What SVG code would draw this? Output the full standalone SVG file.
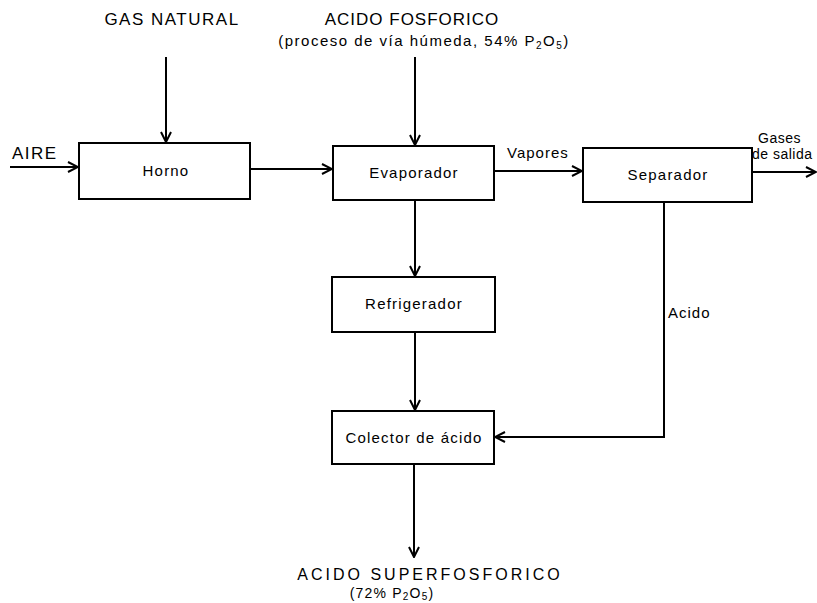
<svg xmlns="http://www.w3.org/2000/svg" width="817" height="603" viewBox="0 0 817 603">
<style>
.box{fill:#fff;stroke:#000;stroke-width:2}
.ln{fill:none;stroke:#000;stroke-width:2}
text{font-family:"Liberation Sans",Arial,sans-serif;fill:#000}
.lbl{font-size:15px;letter-spacing:1px}
.big{font-size:17px;letter-spacing:1.5px}
.sm{font-size:14px;letter-spacing:0.5px}
.bx{font-size:15px;letter-spacing:1.2px}
.sub{font-size:10px}
</style>
<defs>
<marker id="ah" viewBox="0 0 12 12" refX="11" refY="6" markerWidth="12" markerHeight="12" markerUnits="userSpaceOnUse" orient="auto">
<path d="M1,1 L11,6 L1,11" fill="none" stroke="#000" stroke-width="2"/>
</marker>
</defs>
<g id="connectors">
<line class="ln" x1="10" y1="167" x2="78" y2="167" marker-end="url(#ah)"/>
<line class="ln" x1="166" y1="57" x2="166" y2="142" marker-end="url(#ah)"/>
<line class="ln" x1="250" y1="169" x2="332" y2="169" marker-end="url(#ah)"/>
<line class="ln" x1="415" y1="57" x2="415" y2="145" marker-end="url(#ah)"/>
<line class="ln" x1="494" y1="171" x2="582" y2="171" marker-end="url(#ah)"/>
<line class="ln" x1="752" y1="172" x2="816" y2="172" marker-end="url(#ah)"/>
<line class="ln" x1="415" y1="200" x2="415" y2="276" marker-end="url(#ah)"/>
<line class="ln" x1="415" y1="332" x2="415" y2="410" marker-end="url(#ah)"/>
<polyline class="ln" points="664,202 664,437 495,437" marker-end="url(#ah)"/>
<line class="ln" x1="414" y1="464" x2="414" y2="557" marker-end="url(#ah)"/>
</g>
<g id="labels">
<text class="big" x="172" y="25" text-anchor="middle">GAS NATURAL</text>
<text class="big" x="412" y="25" text-anchor="middle" style="letter-spacing:1px">ACIDO FOSFORICO</text>
<text class="lbl" x="424" y="46" text-anchor="middle" style="letter-spacing:1.5px">(proceso de vía húmeda, 54% P<tspan class="sub" dy="3">2</tspan><tspan dy="-3">O</tspan><tspan class="sub" dy="3">5</tspan><tspan dy="-3">)</tspan></text>
<text class="big" x="12" y="159">AIRE</text>
<text class="lbl" x="507" y="158">Vapores</text>
<text class="sm" x="758" y="143">Gases</text>
<text class="sm" x="752" y="159">de salida</text>
<text class="lbl" x="668" y="318">Acido</text>
<text x="430" y="580" text-anchor="middle" style="font-size:16px;letter-spacing:3px">ACIDO SUPERFOSFORICO</text>
<text x="392" y="598" text-anchor="middle" style="font-size:14px;letter-spacing:1.2px">(72% P<tspan class="sub" dy="2">2</tspan><tspan dy="-2">O</tspan><tspan class="sub" dy="2">5</tspan><tspan dy="-2">)</tspan></text>
</g>
<g id="horno"><rect class="box" x="79" y="143" width="171" height="56"/><text class="bx" x="166" y="176" text-anchor="middle">Horno</text></g>
<g id="evaporador"><rect class="box" x="333" y="146" width="161" height="54"/><text class="bx" x="414" y="178" text-anchor="middle">Evaporador</text></g>
<g id="separador"><rect class="box" x="583" y="148" width="169" height="54"/><text class="bx" x="668" y="180" text-anchor="middle">Separador</text></g>
<g id="refrigerador"><rect class="box" x="332" y="277" width="163" height="55"/><text class="bx" x="414" y="309" text-anchor="middle">Refrigerador</text></g>
<g id="colector"><rect class="box" x="332" y="411" width="162" height="53"/><text class="bx" x="414" y="443" text-anchor="middle">Colector de ácido</text></g>
</svg>
